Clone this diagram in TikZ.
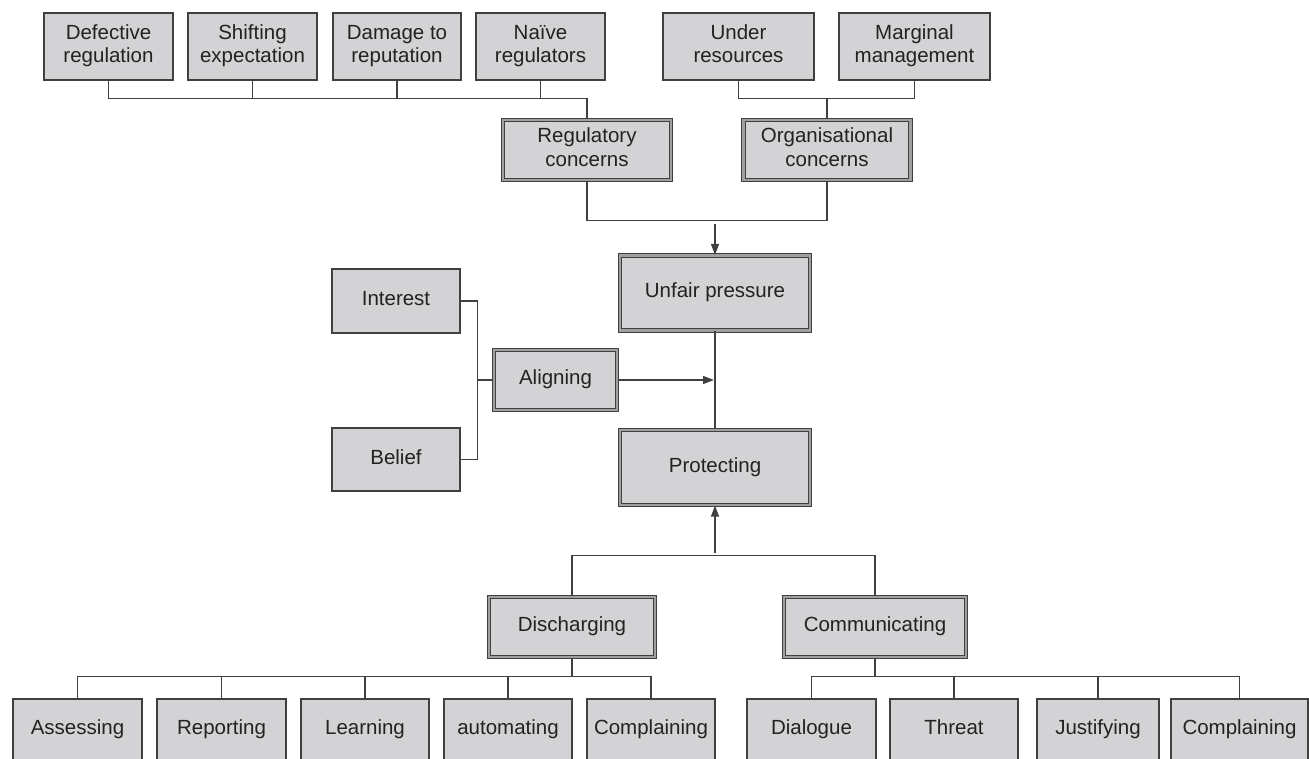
\documentclass[tikz,border=0pt]{standalone}
\usepackage{fontspec}
\setmainfont{Liberation Sans}
\usetikzlibrary{arrows.meta,calc}
\definecolor{bg}{HTML}{D3D3D6}
\definecolor{bd}{HTML}{404040}
\definecolor{mid}{HTML}{A0A0A0}
\definecolor{tx}{HTML}{222222}
\tikzset{
  box/.style={draw=bd, fill=bg, line width=1.4pt, inner sep=0pt, align=center,
    text=tx, font=\fontsize{20.5}{23.5}\selectfont},
  dbox/.style={box, line width=1.2pt, double=mid, double distance=2.2pt},
  conn/.style={draw=bd, line width=1.4pt},
  arr/.style={conn, -{Triangle[length=11pt,width=8pt]}},
}
\begin{document}
\begin{tikzpicture}[x=1pt,y=-1pt]
\useasboundingbox (0,0) rectangle (1309,758);
% top row
\node[box, minimum width=129, minimum height=67] (def) at (108.5,46.5) {\strut Defective\\regulation\strut};
\node[box, minimum width=129, minimum height=67] (shi) at (252.5,46.5) {\strut Shifting\\expectation\strut};
\node[box, minimum width=128, minimum height=67] (dam) at (397,46.5) {\strut Damage to\\reputation\strut};
\node[box, minimum width=129, minimum height=67] (nai) at (540.5,46.5) {\strut Naïve\\regulators\strut};
\node[box, minimum width=151, minimum height=67] (und) at (738.5,46.5) {\strut Under\\resources\strut};
\node[box, minimum width=151, minimum height=67] (mar) at (914.5,46.5) {\strut Marginal\\management\strut};
% concerns
\node[dbox, minimum width=168, minimum height=60] (reg) at (587,150) {\strut Regulatory\\concerns\strut};
\node[dbox, minimum width=167, minimum height=60] (org) at (827,150) {\strut Organisational\\concerns\strut};
% middle
\node[dbox, minimum width=190, minimum height=75] (unf) at (715,293) {\strut Unfair pressure};
\node[box, minimum width=128, minimum height=64] (int) at (396,301) {\strut Interest};
\node[box, minimum width=128, minimum height=63] (bel) at (396,459.5) {\strut Belief};
\node[dbox, minimum width=123, minimum height=60] (ali) at (555.5,380) {\strut Aligning};
\node[dbox, minimum width=190, minimum height=75] (pro) at (715,467.5) {\strut Protecting};
% strategies
\node[dbox, minimum width=166, minimum height=60] (dis) at (572,627) {\strut Discharging};
\node[dbox, minimum width=182, minimum height=60] (com) at (875,627) {\strut Communicating};
% bottom row
\node[box, minimum width=129, minimum height=62] (ass) at (77.5,730) {\strut Assessing};
\node[box, minimum width=129, minimum height=62] (rep) at (221.5,730) {\strut Reporting};
\node[box, minimum width=128, minimum height=62] (lea) at (365,730) {\strut Learning};
\node[box, minimum width=128, minimum height=62] (aut) at (508,730) {\strut automating};
\node[box, minimum width=128, minimum height=62] (cp1) at (651,730) {\strut Complaining};
\node[box, minimum width=129, minimum height=62] (dia) at (811.5,730) {\strut Dialogue};
\node[box, minimum width=128, minimum height=62] (thr) at (954,730) {\strut Threat};
\node[box, minimum width=122, minimum height=62] (jus) at (1098,730) {\strut Justifying};
\node[box, minimum width=137, minimum height=62] (cp2) at (1239.5,730) {\strut Complaining};
% top connectors
\draw[conn] (def.south) -- ++(0,18) -| (reg.north);
\draw[conn] (shi.south) -- ++(0,18);
\draw[conn] (dam.south) -- ++(0,18);
\draw[conn] (nai.south) -- ++(0,18);
\draw[conn] (und.south) -- ++(0,18) -| (mar.south);
\draw[conn] (org.north) -- ++(0,-20);
\draw[conn] (reg.south) -- ++(0,40) -| (org.south);
\draw[arr] ($(unf.north)+(0,-31)$) -- (unf.north);
% middle connectors
\draw[conn] (unf.south) -- (pro.north);
\draw[arr, shorten >=1pt] (ali.east) -- (ali.east -| unf.south);
\draw[conn] (int.east) -- ++(17,0) |- (bel.east);
\draw[conn] (ali.west) -- ++(-15,0);
% lower connectors
\draw[arr] ($(pro.south)+(0,47)$) -- (pro.south);
\draw[conn] (dis.north) -- ++(0,-41) -| (com.north);
\draw[conn] (dis.south) -- ++(0,18);
\draw[conn] (ass.north) -- ++(0,-22) -| (cp1.north);
\draw[conn] (rep.north) -- ++(0,-22);
\draw[conn] (lea.north) -- ++(0,-22);
\draw[conn] (aut.north) -- ++(0,-22);
\draw[conn] (com.south) -- ++(0,18);
\draw[conn] (dia.north) -- ++(0,-22) -| (cp2.north);
\draw[conn] (thr.north) -- ++(0,-22);
\draw[conn] (jus.north) -- ++(0,-22);
\end{tikzpicture}
\end{document}
